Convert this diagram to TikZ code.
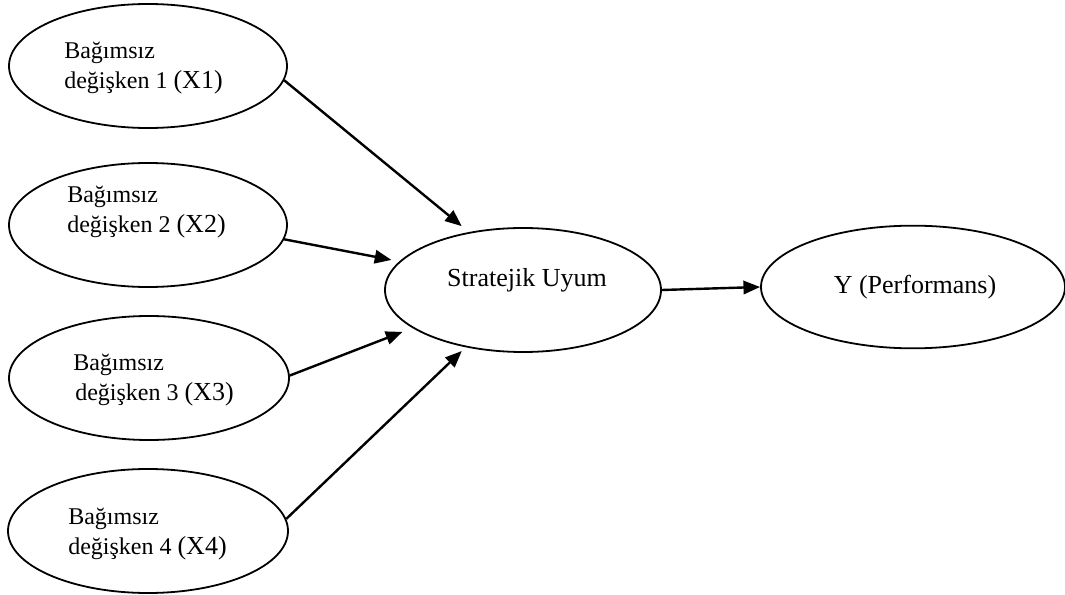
\documentclass[tikz,border=0pt]{standalone}
\usepackage{fontspec}
\setmainfont{Liberation Serif}
\usetikzlibrary{shapes.geometric,arrows.meta}
\begin{document}
\begin{tikzpicture}[x=0.75pt,y=-0.75pt,
  oval/.style={draw,ellipse,line width=1.35pt,inner sep=0pt,minimum height=93pt},
  small/.style={font=\fontsize{18}{22}\selectfont,inner sep=0pt,anchor=base west},
  big/.style={font=\fontsize{19.5}{23}\selectfont,inner sep=0pt,anchor=base},
  link/.style={line width=1.8pt,-{Triangle[length=12.5pt,width=10pt]}}]
\useasboundingbox (0,0) rectangle (1065,595);
\newcommand{\bx}[1]{{\fontsize{19.5}{23}\selectfont(X#1)}}

% independent-variable ovals
\node[oval,minimum width=208.5pt] (x1) at (148,66) {};
\node[oval,minimum width=208.5pt] (x2) at (148,225) {};
\node[oval,minimum width=210pt]   (x3) at (149,378) {};
\node[oval,minimum width=210pt]   (x4) at (148,531) {};

% their two-line labels
\node[small] (x1a) at (64,59)  {Bağımsız};
\node[small] (x1b) at (64,89)  {değişken 1 \bx{1}};
\node[small] (x2a) at (67,203) {Bağımsız};
\node[small] (x2b) at (67,233) {değişken 2 \bx{2}};
\node[small] (x3a) at (73,371) {Bağımsız};
\node[small] (x3b) at (75,401) {değişken 3 \bx{3}};
\node[small] (x4a) at (68,524) {Bağımsız};
\node[small] (x4b) at (68,555) {değişken 4 \bx{4}};

% mediator and outcome
\node[oval,minimum width=207pt] (s) at (523,290) {};
\node[big] (st) at (527,287) {Stratejik Uyum};
\node[oval,minimum width=228pt,minimum height=92pt] (y) at (913,287) {};
\node[big] (yt) at (915,294) {Y (Performans)};

% paths
\draw[link,shorten >=7pt] (x1.-6.6) -- (s.133.2);
\draw[link,shorten >=6pt] (x2.-6.2) -- (s.167.1);
\draw[link,shorten >=8pt] (x3.1.6)  -- (s.-161.8);
\draw[link,shorten >=4pt] (x4.5.3)  -- (s.-135);
\draw[link] (s.east) -- (y.west);
\end{tikzpicture}
\end{document}
